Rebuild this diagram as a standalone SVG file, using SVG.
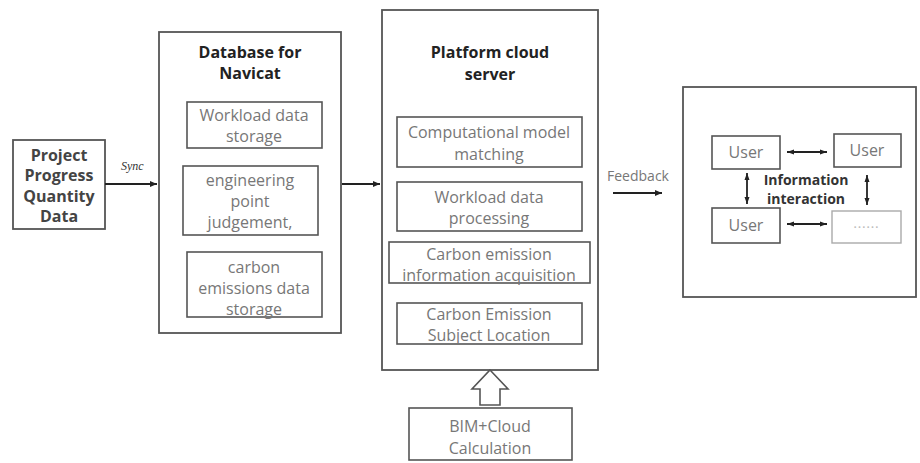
<svg xmlns="http://www.w3.org/2000/svg" width="920" height="463" viewBox="0 0 920 463">
<defs>
<style>
.box{fill:#fff;stroke:#555;stroke-width:1.8}
.ibox{fill:#fff;stroke:#555;stroke-width:1.6}
.lbox{fill:#fff;stroke:#aaa;stroke-width:1.4}
.t{font-family:"Open Sans","Noto Sans",sans-serif;font-size:16px;fill:#777;text-anchor:middle}
.b{font-family:"Open Sans","Noto Sans",sans-serif;font-size:16px;font-weight:bold;fill:#222;text-anchor:middle}
.pb{font-family:"Open Sans","Noto Sans",sans-serif;font-size:16px;font-weight:bold;fill:#444;text-anchor:middle}
.s{font-family:"Open Sans","Noto Sans",sans-serif;font-size:14px;fill:#777;text-anchor:middle}
.ln{stroke:#222;stroke-width:1.8;fill:none}
</style>
<marker id="ah" markerWidth="8" markerHeight="8" refX="7" refY="4" orient="auto" markerUnits="userSpaceOnUse">
<path d="M0,1 L7,4 L0,7 z" fill="#222"/>
</marker>
<marker id="as" markerWidth="8" markerHeight="8" refX="7" refY="4" orient="auto-start-reverse" markerUnits="userSpaceOnUse">
<path d="M0,1.5 L7,4 L0,6.5 z" fill="#222"/>
</marker>
</defs>

<g id="project">
<rect class="box" x="13" y="140" width="92" height="89"/>
<text class="pb" x="59" y="161">Project</text>
<text class="pb" x="59" y="181">Progress</text>
<text class="pb" x="59" y="202">Quantity</text>
<text class="pb" x="59" y="222">Data</text>
</g>

<g id="database">
<rect class="box" x="159" y="32" width="182" height="301"/>
<text class="b" x="250" y="58">Database for</text>
<text class="b" x="250" y="79">Navicat</text>
<rect class="ibox" x="187" y="102" width="135" height="46"/>
<text class="t" x="254" y="121">Workload data</text>
<text class="t" x="254" y="142">storage</text>
<rect class="ibox" x="183" y="166" width="135" height="69"/>
<text class="t" x="250" y="186">engineering</text>
<text class="t" x="250" y="207">point</text>
<text class="t" x="250" y="228">judgement,</text>
<rect class="ibox" x="187" y="252" width="135" height="65"/>
<text class="t" x="254" y="273">carbon</text>
<text class="t" x="254" y="294">emissions data</text>
<text class="t" x="254" y="315">storage</text>
</g>

<g id="platform">
<rect class="box" x="382" y="10" width="216" height="360"/>
<text class="b" x="490" y="58">Platform cloud</text>
<text class="b" x="490" y="80">server</text>
<rect class="ibox" x="397" y="117" width="185" height="50"/>
<text class="t" x="489" y="138">Computational model</text>
<text class="t" x="489" y="160">matching</text>
<rect class="ibox" x="397" y="182" width="185" height="49"/>
<text class="t" x="489" y="203">Workload data</text>
<text class="t" x="489" y="224">processing</text>
<rect class="ibox" x="389" y="242" width="201" height="41"/>
<text class="t" x="489" y="260">Carbon emission</text>
<text class="t" x="489" y="281">information acquisition</text>
<rect class="ibox" x="397" y="303" width="185" height="41"/>
<text class="t" x="489" y="320">Carbon Emission</text>
<text class="t" x="489" y="341">Subject Location</text>
</g>

<g id="bim">
<rect class="ibox" x="409" y="408" width="163" height="52"/>
<text class="t" x="490" y="432">BIM+Cloud</text>
<text class="t" x="490" y="454">Calculation</text>
</g>

<g id="users">
<rect class="box" x="683" y="87" width="233" height="210"/>
<rect class="ibox" x="712" y="136" width="68" height="33"/>
<text class="t" x="746" y="158">User</text>
<rect class="ibox" x="834" y="134" width="67" height="33"/>
<text class="t" x="867" y="156">User</text>
<rect class="ibox" x="712" y="208" width="68" height="35"/>
<text class="t" x="746" y="231">User</text>
<rect class="lbox" x="832" y="211" width="69" height="32"/>
<text x="866" y="232" style="font-family:'Noto Sans CJK SC',sans-serif;font-size:13px;fill:#bbb;text-anchor:middle">……</text>
<text class="b" x="806" y="185" style="fill:#333;font-size:14px">Information</text>
<text class="b" x="806" y="204" style="fill:#333;font-size:14px">interaction</text>
</g>

<g id="connectors">
<line class="ln" x1="105" y1="184" x2="157" y2="184" marker-end="url(#ah)"/>
<text x="121" y="170" style="font-family:'Liberation Serif',serif;font-style:italic;font-size:12px;fill:#333">Sync</text>
<line class="ln" x1="342" y1="184" x2="380" y2="184" marker-end="url(#ah)"/>
<text class="s" x="638" y="181">Feedback</text>
<line class="ln" x1="613" y1="193" x2="662" y2="193" marker-end="url(#ah)"/>
<path d="M490,370 L508,389 L500,389 L500,405 L480,405 L480,389 L472,389 Z" fill="#fff" stroke="#555" stroke-width="1.6"/>
<line class="ln" x1="787" y1="152" x2="827" y2="152" stroke-width="1.5" marker-start="url(#as)" marker-end="url(#as)"/>
<line class="ln" x1="787" y1="224" x2="827" y2="224" stroke-width="1.5" marker-start="url(#as)" marker-end="url(#as)"/>
<line class="ln" x1="747" y1="173" x2="747" y2="204" stroke-width="1.5" marker-start="url(#as)" marker-end="url(#as)"/>
<line class="ln" x1="867" y1="175" x2="867" y2="205" stroke-width="1.5" marker-start="url(#as)" marker-end="url(#as)"/>
</g>
</svg>
